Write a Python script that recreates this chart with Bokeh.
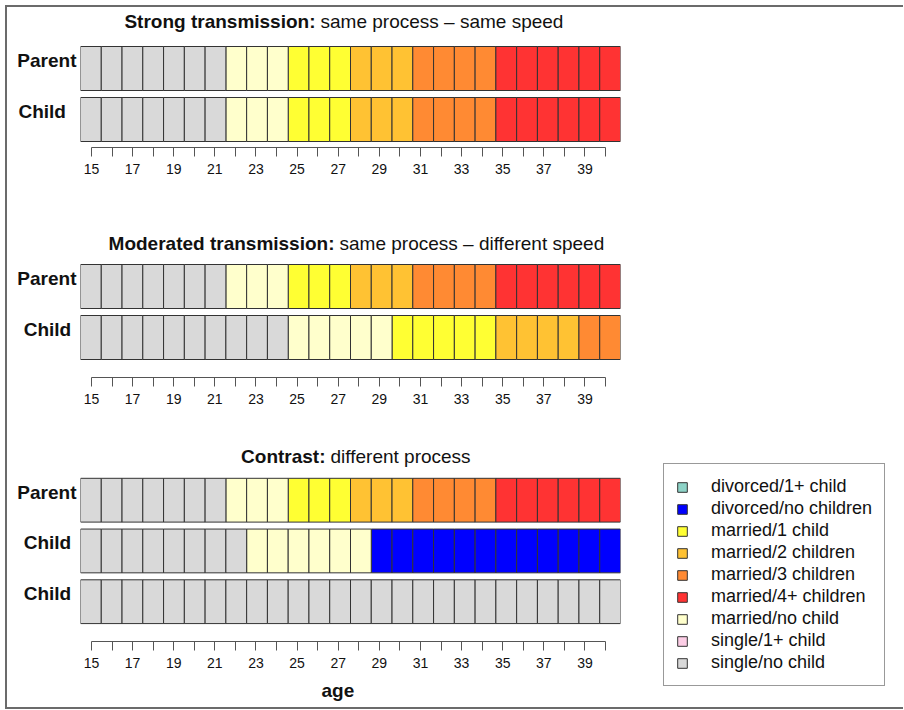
from bokeh.plotting import figure
from bokeh.models import (Range1d, FixedTicker, LinearAxis, Label, Legend, LegendItem, Title)
from bokeh.layouts import column, row
from bokeh.embed import file_html
from bokeh.resources import INLINE

# ---------------- data ----------------
ages = list(range(15, 41))

states = ["divorced/1+ child", "divorced/no children", "married/1 child",
          "married/2 children", "married/3 children", "married/4+ children",
          "married/no child", "single/1+ child", "single/no child"]
state_colors = ["#8DD3C7", "#0000FF", "#FFFF33", "#FFC233", "#FF8A33",
                "#FF3333", "#FFFFCC", "#FCCDE5", "#D9D9D9"]

# sequences as spells (state, number of years)
parent_states = ["single/no child", "married/no child", "married/1 child",
                 "married/2 children", "married/3 children", "married/4+ children"]
parent_years = [7, 3, 3, 3, 4, 6]

child_strong_states = ["single/no child", "married/no child", "married/1 child",
                       "married/2 children", "married/3 children", "married/4+ children"]
child_strong_years = [7, 3, 3, 3, 4, 6]

child_moderated_states = ["single/no child", "married/no child", "married/1 child",
                          "married/2 children", "married/3 children"]
child_moderated_years = [10, 5, 5, 4, 2]

child_contrast_a_states = ["single/no child", "married/no child", "divorced/no children"]
child_contrast_a_years = [8, 6, 12]

child_contrast_b_states = ["single/no child"]
child_contrast_b_years = [26]

titles_bold = ["Strong transmission:", "Moderated transmission:", "Contrast:"]
titles_rest = ["same process \u2013 same speed", "same process \u2013 different speed",
               "different process"]
row_names = [["Parent", "Child"], ["Parent", "Child"], ["Parent", "Child", "Child"]]
x_axis_title = "age"


def expand(st, yrs):
    out = []
    for s, n in zip(st, yrs):
        out += [s] * n
    return out


panels_rows = [
    [expand(parent_states, parent_years), expand(child_strong_states, child_strong_years)],
    [expand(parent_states, parent_years), expand(child_moderated_states, child_moderated_years)],
    [expand(parent_states, parent_years), expand(child_contrast_a_states, child_contrast_a_years),
     expand(child_contrast_b_states, child_contrast_b_years)],
]

# ---------------- layout ----------------
FONT = "Liberation Sans"
NBSP = "\u00a0"
PX = 51.0            # pixels per row
ROW_H = 44.0 / PX    # row height in row units
LABEL_RAISE = 8.0 / PX
PANEL_W = 633
LEFT = 73
RIGHT = 20
fig_heights = [218, 215, 267]
rows_top = [39, 39, 38]            # px from figure top to first row
axis_gaps = [6, 18, 18]
title_y = [126, 134, 185]          # baseline, px above frame bottom
title_split_x = [235, 254, 245]    # px from frame left
label_pad = [["", NBSP + NBSP], ["", NBSP], ["", NBSP, NBSP]]
LEG_W = 263
LEG_H = 700


def make_panel(i):
    rows = panels_rows[i]
    n = len(rows)
    y_bot = -(n - 1) - ROW_H / 2 - axis_gaps[i] / PX
    y_top = ROW_H / 2 + rows_top[i] / PX
    frame_h = int(round((y_top - y_bot) * PX))
    bottom = fig_heights[i] - frame_h
    p = figure(width=PANEL_W, height=fig_heights[i],
               x_range=Range1d(14.5, 40.5), y_range=Range1d(y_bot, y_top),
               output_backend="svg", toolbar_location=None,
               x_axis_location=None, y_axis_location=None,
               min_border_left=LEFT, min_border_right=RIGHT,
               min_border_top=0, min_border_bottom=bottom)
    p.extra_x_ranges = {"ticks": Range1d(14.465, 40.73)}
    p.outline_line_color = None
    p.background_fill_color = "white"
    p.border_fill_color = "white"
    for g in p.grid:
        g.visible = False

    for s, c in zip(states, state_colors):
        xs, ys = [], []
        for k, r in enumerate(rows):
            for a, st in zip(ages, r):
                if st == s:
                    xs.append(a)
                    ys.append(-k)
        if xs:
            p.rect(x=xs, y=ys, width=1, height=ROW_H, fill_color=c,
                   line_color="#333333", line_width=1)

    xa = LinearAxis(x_range_name="ticks", ticker=FixedTicker(ticks=ages), bounds=(15, 40))
    xa.major_label_overrides = {a: ("" if a % 2 == 0 else str(a)) for a in ages}
    xa.major_tick_out = 9
    xa.major_tick_in = 0
    xa.minor_tick_line_color = None
    xa.axis_line_color = "#555555"
    xa.major_tick_line_color = "#555555"
    xa.major_label_text_font = FONT
    xa.major_label_text_font_size = "14px"
    xa.major_label_text_color = "#111111"
    xa.major_label_standoff = 7
    p.add_layout(xa, "below")
    if i == 2:
        p.add_layout(Title(text=x_axis_title, align="left", offset=241, standoff=14,
                           text_font=FONT, text_font_style="bold", text_font_size="19px",
                           text_color="#111111"), "below")

    ticks = [-k + LABEL_RAISE for k in range(n)]
    ya = LinearAxis(ticker=FixedTicker(ticks=ticks))
    ya.major_label_overrides = {ticks[k]: row_names[i][k] + label_pad[i][k] for k in range(n)}
    ya.axis_line_color = None
    ya.major_tick_line_color = None
    ya.minor_tick_line_color = None
    ya.major_tick_out = 0
    ya.major_tick_in = 0
    ya.major_label_text_font = FONT
    ya.major_label_text_font_style = "bold"
    ya.major_label_text_font_size = "19px"
    ya.major_label_text_color = "#111111"
    ya.major_label_standoff = 4
    p.add_layout(ya, "left")

    p.add_layout(Label(x=title_split_x[i], y=title_y[i], x_units="screen", y_units="screen",
                       text=titles_bold[i], text_align="right", text_baseline="alphabetic",
                       text_font=FONT, text_font_style="bold", text_font_size="19px",
                       text_color="#111111"))
    p.add_layout(Label(x=title_split_x[i] + 5, y=title_y[i], x_units="screen", y_units="screen",
                       text=titles_rest[i], text_align="left", text_baseline="alphabetic",
                       text_font=FONT, text_font_size="19px", text_color="#111111"))
    return p


figs = [make_panel(i) for i in range(3)]

# legend figure (legend keys have no position: NaN coordinates)
lg = figure(width=LEG_W, height=LEG_H, x_range=Range1d(0, 1), y_range=Range1d(0, 1),
            output_backend="svg", toolbar_location=None,
            x_axis_location=None, y_axis_location=None,
            min_border_left=0, min_border_right=0, min_border_top=0, min_border_bottom=0)
lg.outline_line_color = None
for g in lg.grid:
    g.visible = False
items = []
for s, c in zip(states, state_colors):
    r = lg.rect(x=[float("nan")], y=[float("nan")], width=1, height=1, fill_color=c,
                line_color="#333333", line_width=1)
    items.append(LegendItem(label=s, renderers=[r]))
legend = Legend(items=items, location=(23, 21))
legend.border_line_color = "#333333"
legend.border_line_width = 1
legend.background_fill_color = "white"
legend.background_fill_alpha = 1
legend.label_text_font = FONT
legend.label_text_font_size = "18px"
legend.label_text_color = "#111111"
legend.glyph_width = 12
legend.glyph_height = 12
legend.label_height = 20
legend.spacing = 1
legend.padding = 12
legend.label_standoff = 23
legend.margin = 0
lg.add_layout(legend)

layout = row(column(*figs, spacing=0), lg, spacing=0,
             styles={"margin-left": "5px", "margin-top": "5px",
                     "border-left": "2px solid #6b6b6b",
                     "border-top": "2px solid #6b6b6b",
                     "border-bottom": "2px solid #6b6b6b"})

open("out.html", "w").write(file_html(layout, INLINE))
